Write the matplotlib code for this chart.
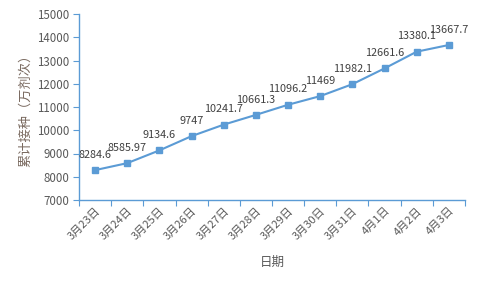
import matplotlib.pyplot as plt
import numpy as np

plt.rcParams['font.family'] = ['Noto Sans CJK SC', 'DejaVu Sans']

dates = ['3月23日', '3月24日', '3月25日', '3月26日', '3月27日', '3月28日',
         '3月29日', '3月30日', '3月31日', '4月1日', '4月2日', '4月3日']
doses = [8284.6, 8585.97, 9134.6, 9747, 10241.7, 10661.3,
         11096.2, 11469, 11982.1, 12661.6, 13380.1, 13667.7]
labels = ['8284.6', '8585.97', '9134.6', '9747', '10241.7', '10661.3',
          '11096.2', '11469', '11982.1', '12661.6', '13380.1', '13667.7']

line_color = '#5b9bd5'
axis_color = '#5b9bd5'
text_color = '#595959'

fig = plt.figure(figsize=(4.8, 2.88), dpi=100)
ax = fig.add_axes([79 / 480, 1 - 200 / 288, 386 / 480, 186 / 288])

x = np.arange(len(dates))
ax.plot(x, doses, color=line_color, lw=1.5, marker='s', markersize=5)

for xi, yi, lab in zip(x, doses, labels):
    ax.annotate(lab, (xi, yi), xytext=(0, 11), textcoords='offset points',
                ha='center', va='center', fontsize=7.8, color='#404040')

ax.set_xlim(-0.5, len(dates) - 0.5)
ax.set_ylim(7000, 15000)
ax.set_yticks(np.arange(7000, 15001, 1000))

ax.set_xticks(np.arange(-0.5, len(dates), 1))
ax.set_xticklabels([])
ax.set_xticks(x, minor=True)
ax.set_xticklabels(dates, minor=True, rotation=45, ha='right',
                   rotation_mode='anchor', fontsize=8, color=text_color)
ax.tick_params(axis='x', which='minor', length=0, pad=4)
ax.tick_params(axis='x', which='major', length=4, color=axis_color)
ax.tick_params(axis='y', length=4, color=axis_color, labelsize=8.3,
               labelcolor=text_color, pad=3)

for side in ['top', 'right']:
    ax.spines[side].set_visible(False)
for side in ['left', 'bottom']:
    ax.spines[side].set_color(axis_color)
    ax.spines[side].set_linewidth(1)

ax.set_ylabel('累计接种（万剂次）', fontsize=9.5, color='#7a6a60')
ax.yaxis.set_label_coords(-0.122, 0.5)
ax.set_xlabel('日期', fontsize=9, color=text_color)
ax.xaxis.set_label_coords(0.5, -0.3)

fig.savefig('out.png', dpi=100)
